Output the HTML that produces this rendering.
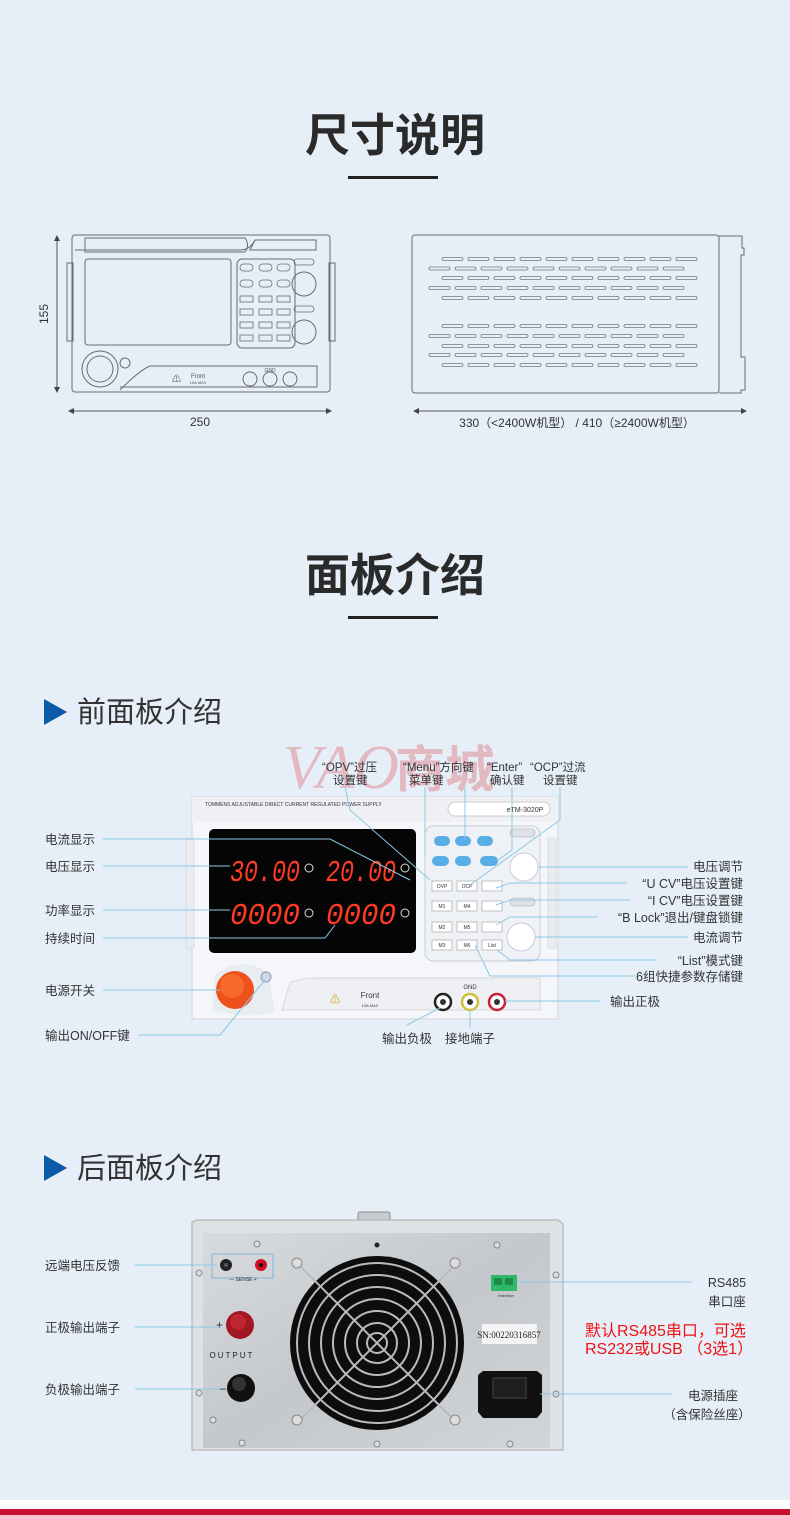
<!DOCTYPE html>
<html><head><meta charset="utf-8">
<style>
html,body{margin:0;padding:0;}
body{width:790px;height:1515px;background:#e6eff8;position:relative;overflow:hidden;font-family:"Liberation Sans","Noto Sans CJK SC",sans-serif;}
svg{position:absolute;left:0;top:0;}
</style></head><body>
<svg width="790" height="1515" viewBox="0 0 790 1515" xmlns="http://www.w3.org/2000/svg" font-family="Liberation Sans, Noto Sans CJK SC, sans-serif">
<rect width="790" height="1515" fill="#e6eff8"/>
<rect y="1500" width="790" height="9" fill="#ffffff"/>
<rect y="1509" width="790" height="6" fill="#c8102e"/>

<text x="395" y="151" font-size="45" font-weight="bold" text-anchor="middle" fill="#2a2a2a">尺寸说明</text>
<rect x="348" y="176" width="90" height="3" fill="#222"/>

<g fill="none" stroke="#6b6b6b" stroke-width="1">
<rect x="72" y="235" width="258" height="157" rx="3"/>
<rect x="67" y="263" width="6" height="78"/>
<rect x="329" y="263" width="6" height="78"/>
<path d="M85 238 H245 Q250 245 245 252 H85 Z"/>
<path d="M255 240 H316 V250 H250 Z"/>
<path d="M75 250 H240 Q250 250 255 240"/>
<rect x="85" y="259" width="146" height="86" rx="3"/>
<rect x="237" y="259" width="58" height="89" rx="5"/>
<g stroke-width="0.8">
<rect x="240" y="264" width="13" height="7" rx="3.5"/><rect x="259" y="264" width="13" height="7" rx="3.5"/><rect x="277" y="264" width="13" height="7" rx="3.5"/>
<rect x="240" y="280" width="13" height="7" rx="3.5"/><rect x="259" y="280" width="13" height="7" rx="3.5"/><rect x="277" y="280" width="13" height="7" rx="3.5"/>
<rect x="240" y="296" width="13" height="6"/><rect x="259" y="296" width="13" height="6"/><rect x="277" y="296" width="13" height="6"/>
<rect x="240" y="309" width="13" height="6"/><rect x="259" y="309" width="13" height="6"/><rect x="277" y="309" width="13" height="6"/>
<rect x="240" y="322" width="13" height="6"/><rect x="259" y="322" width="13" height="6"/><rect x="277" y="322" width="13" height="6"/>
<rect x="240" y="335" width="13" height="6"/><rect x="259" y="335" width="13" height="6"/><rect x="277" y="335" width="13" height="6"/>
<rect x="294" y="259" width="20" height="6" rx="3"/><rect x="294" y="306" width="20" height="6" rx="3"/>
</g>
<circle cx="304" cy="284" r="12"/><circle cx="304" cy="332" r="12"/>
<circle cx="100" cy="369" r="18"/><circle cx="100" cy="369" r="13"/><circle cx="125" cy="363" r="5"/>
<path d="M120 390 Q140 370 150 366 H317 V387 H120"/>
<circle cx="250" cy="379" r="7"/><circle cx="270" cy="379" r="7"/><circle cx="290" cy="379" r="7"/>
</g>
<text x="198" y="378" font-size="6" fill="#555" text-anchor="middle">Front</text>
<text x="198" y="384" font-size="4" fill="#555" text-anchor="middle">10A MAX</text>
<text x="172" y="382" font-size="9" fill="#555">⚠</text>
<text x="270" y="372" font-size="5" fill="#555" text-anchor="middle">GND</text>
<g stroke="#555" stroke-width="1"><line x1="57" y1="238" x2="57" y2="390"/><line x1="70" y1="411" x2="330" y2="411"/><line x1="414" y1="411" x2="746" y2="411"/></g>
<g fill="#444"><path d="M57 235 l-3 6 h6z"/><path d="M57 393 l-3 -6 h6z"/><path d="M68 411 l6 -3 v6z"/><path d="M332 411 l-6 -3 v6z"/><path d="M413 411 l6 -3 v6z"/><path d="M747 411 l-6 -3 v6z"/></g>
<text x="48" y="314" font-size="12" fill="#333" text-anchor="middle" transform="rotate(-90 48 314)">155</text>
<text x="200" y="426" font-size="12" fill="#333" text-anchor="middle">250</text>
<text x="577" y="427" font-size="12" fill="#333" text-anchor="middle">330（&lt;2400W机型） / 410（≥2400W机型）</text>

<g fill="none" stroke="#6b6b6b" stroke-width="1">
<rect x="412" y="235" width="307" height="158" rx="3"/>
<path d="M719 236 H742 V248 H744 V255 H741 V357 H745 V390 H741 V393 H719"/>
</g>
<g id="slots" fill="none" stroke="#777" stroke-width="0.8"></g>

<text x="395" y="591" font-size="45" font-weight="bold" text-anchor="middle" fill="#2a2a2a">面板介绍</text>
<rect x="348" y="616" width="90" height="3" fill="#222"/>

<path d="M44 699 L67 712 L44 725 Z" fill="#0d5aa7"/>
<text x="77" y="722" font-size="29" fill="#333">前面板介绍</text>

<text x="283" y="788" font-size="62" font-family="Liberation Serif, serif" font-style="italic" fill="#e07a80" opacity="0.45">VAO</text>
<text x="395" y="787" font-size="50" font-weight="bold" fill="#e07a80" opacity="0.45">商城</text>

<rect x="192" y="797" width="366" height="222" fill="#f4f6f9" stroke="#d0d4da"/>
<rect x="192" y="797" width="366" height="25" fill="#eef0f3"/>
<text x="205" y="806" font-size="5" fill="#334">TOMMENS   ADJUSTABLE DIRECT CURRENT REGULATED POWER SUPPLY</text>
<rect x="448" y="802" width="102" height="14" rx="7" fill="#fff" stroke="#ccc"/>
<text x="525" y="812" font-size="7" fill="#333" text-anchor="middle">eTM-3020P</text>
<rect x="186" y="838" width="8" height="110" fill="#e8ebef" stroke="#ddd"/>
<rect x="548" y="838" width="8" height="110" fill="#e8ebef" stroke="#ddd"/>
<rect x="209" y="829" width="207" height="124" rx="5" fill="#050505"/>
<g font-family="Liberation Mono, monospace" font-size="31" fill="#ff3b24" font-style="italic">
<text x="230" y="881" textLength="70" lengthAdjust="spacingAndGlyphs">30.00</text><text x="326" y="881" textLength="70" lengthAdjust="spacingAndGlyphs">20.00</text>
<text x="230" y="924" textLength="70" lengthAdjust="spacingAndGlyphs">0000</text><text x="326" y="924" textLength="70" lengthAdjust="spacingAndGlyphs">0000</text>
</g>
<g fill="none" stroke="#ddd" stroke-width="1"><circle cx="309" cy="868" r="4"/><circle cx="405" cy="868" r="4"/><circle cx="309" cy="913" r="4"/><circle cx="405" cy="913" r="4"/></g>
<rect x="425" y="826" width="115" height="135" rx="8" fill="#eef1f5" stroke="#c9cfd6"/>
<g fill="#5aaee6"><rect x="434" y="836" width="16" height="10" rx="5"/><rect x="455" y="836" width="16" height="10" rx="5"/><rect x="477" y="836" width="16" height="10" rx="5"/>
<rect x="432" y="856" width="17" height="10" rx="5"/><rect x="455" y="856" width="16" height="10" rx="5"/><rect x="480" y="856" width="18" height="10" rx="5"/></g>
<g fill="#fff" stroke="#aaa" stroke-width="0.7">
<rect x="432" y="881" width="20" height="10"/><rect x="457" y="881" width="20" height="10"/><rect x="482" y="881" width="20" height="10"/>
<rect x="432" y="901" width="20" height="10"/><rect x="457" y="901" width="20" height="10"/><rect x="482" y="901" width="20" height="10"/>
<rect x="432" y="922" width="20" height="10"/><rect x="457" y="922" width="20" height="10"/><rect x="482" y="922" width="20" height="10"/>
<rect x="432" y="940" width="20" height="10"/><rect x="457" y="940" width="20" height="10"/><rect x="482" y="940" width="20" height="10"/>
</g>
<g font-size="5" fill="#333" text-anchor="middle"><text x="442" y="888">OVP</text><text x="467" y="888">OCP</text><text x="442" y="908">M1</text><text x="467" y="908">M4</text><text x="442" y="929">M2</text><text x="467" y="929">M5</text><text x="442" y="947">M3</text><text x="467" y="947">M6</text><text x="492" y="947">List</text></g>
<rect x="510" y="829" width="25" height="8" rx="4" fill="#dde2e8" stroke="#aaa" stroke-width="0.6"/>
<rect x="510" y="898" width="25" height="8" rx="4" fill="#dde2e8" stroke="#aaa" stroke-width="0.6"/>
<circle cx="524" cy="867" r="14" fill="#fff" stroke="#ccd" /><circle cx="521" cy="937" r="14" fill="#fff" stroke="#ccd"/>
<path d="M215 975 Q240 955 268 972 L275 1012 Q240 1020 212 1010 Z" fill="#e9ecf0"/>
<circle cx="235" cy="990" r="19" fill="#f0501c"/><circle cx="232" cy="986" r="12" fill="#f66a2c"/>
<circle cx="266" cy="977" r="5" fill="#cfd8e6" stroke="#8899bb"/>
<path d="M290 983 Q300 978 320 978 H540 V1010 H282 Z" fill="#eef0f3" stroke="#d5d8dc"/>
<text x="330" y="1003" font-size="10" fill="#d4a000">⚠</text>
<text x="370" y="998" font-size="8" fill="#333" text-anchor="middle">Front</text>
<text x="370" y="1007" font-size="4" fill="#333" text-anchor="middle">10A MAX</text>
<g><circle cx="443" cy="1002" r="8" fill="#fff" stroke="#222" stroke-width="2.5"/><circle cx="470" cy="1002" r="8" fill="#fff" stroke="#cfc23a" stroke-width="2.5"/><circle cx="497" cy="1002" r="8" fill="#fff" stroke="#c8203a" stroke-width="2.5"/>
<circle cx="443" cy="1002" r="3" fill="#333"/><circle cx="470" cy="1002" r="3" fill="#333"/><circle cx="497" cy="1002" r="3" fill="#333"/></g>
<text x="470" y="989" font-size="6" fill="#333" text-anchor="middle">GND</text>

<g stroke="#8cc8e6" stroke-width="1" fill="none">
<line x1="103" y1="839" x2="300" y2="839"/><polyline points="300,839 330,839 410,880"/>
<line x1="103" y1="866" x2="230" y2="866"/>
<line x1="103" y1="910" x2="230" y2="910"/>
<line x1="103" y1="938" x2="310" y2="938"/><polyline points="310,938 325,938 335,925"/>
<line x1="103" y1="990" x2="220" y2="990"/>
<polyline points="138,1035 220,1035 265,980"/>
<polyline points="345,787 350,810 430,880"/>
<polyline points="425,787 425,855"/><line x1="465" y1="787" x2="465" y2="840"/>
<polyline points="512,787 512,850 498,860"/>
<polyline points="560,787 560,820 470,885"/>
<line x1="538" y1="867" x2="688" y2="867"/>
<polyline points="496,888 510,883 627,883"/>
<polyline points="496,905 510,900 630,900"/>
<polyline points="496,925 510,917 598,917"/>
<line x1="535" y1="937" x2="688" y2="937"/>
<polyline points="497,950 510,960 657,960"/>
<polyline points="475,945 490,976 635,976"/>
<line x1="505" y1="1001" x2="600" y2="1001"/>
<polyline points="407,1025 440,1008"/><line x1="470" y1="1010" x2="470" y2="1028"/>
</g>
<g font-size="12.5" fill="#333">
<text x="45" y="844">电流显示</text><text x="45" y="871">电压显示</text><text x="45" y="915">功率显示</text><text x="45" y="943">持续时间</text><text x="45" y="995">电源开关</text><text x="45" y="1040">输出ON/OFF键</text>
<g text-anchor="end"><text x="743" y="871">电压调节</text><text x="743" y="888">“U CV”电压设置键</text><text x="743" y="905">“I CV”电压设置键</text><text x="743" y="922">“B Lock”退出/键盘锁键</text><text x="743" y="942">电流调节</text><text x="743" y="965">“List”模式键</text><text x="743" y="981">6组快捷参数存储键</text></g>
<text x="610" y="1006">输出正极</text>
<text x="382" y="1043">输出负极</text><text x="445" y="1043">接地端子</text>
<text x="322" y="771" font-size="11.5">“OPV”过压</text><text x="333" y="784" font-size="11.5">设置键</text>
<text x="403" y="771" font-size="11.5">“Menu”方向键</text><text x="409" y="784" font-size="11.5">菜单键</text>
<text x="487" y="771" font-size="11.5">“Enter”</text><text x="490" y="784" font-size="11.5">确认键</text>
<text x="530" y="771" font-size="11.5">“OCP”过流</text><text x="543" y="784" font-size="11.5">设置键</text>
</g>

<path d="M44 1155 L67 1168 L44 1181 Z" fill="#0d5aa7"/>
<text x="77" y="1178" font-size="29" fill="#333">后面板介绍</text>

<rect x="358" y="1212" width="32" height="10" rx="2" fill="#c8ccd0" stroke="#888"/>
<path d="M192 1222 L197 1220 H558 L563 1224 V1450 H192 Z" fill="#dfe2e5" stroke="#aaa"/>
<defs><linearGradient id="metal" x1="0" y1="0" x2="1" y2="1"><stop offset="0" stop-color="#d8dbde"/><stop offset="0.5" stop-color="#c4c8cc"/><stop offset="1" stop-color="#d2d5d8"/></linearGradient></defs>
<rect x="203" y="1233" width="347" height="215" fill="url(#metal)"/>
<rect x="212" y="1254" width="61" height="24" fill="none" stroke="#7ab8dc"/>
<circle cx="226" cy="1265" r="6" fill="#222"/><circle cx="261" cy="1265" r="6" fill="#d01020"/><circle cx="261" cy="1265" r="2" fill="#111"/><circle cx="226" cy="1265" r="2" fill="#555"/>
<text x="243" y="1281" font-size="5" fill="#333" text-anchor="middle">— SENSE +</text>
<circle cx="240" cy="1325" r="14" fill="#a01822"/><circle cx="238" cy="1322" r="8" fill="#c02530"/>
<text x="216" y="1329" font-size="12" fill="#333">+</text>
<text x="232" y="1358" font-size="8" fill="#222" text-anchor="middle" letter-spacing="2">OUTPUT</text>
<circle cx="241" cy="1388" r="14" fill="#111"/><circle cx="239" cy="1384" r="7" fill="#333"/>
<text x="214" y="1392" font-size="12" fill="#333">—</text>
<circle cx="377" cy="1343" r="87" fill="#0d0d0d"/>
<g fill="none" stroke="#bbb" stroke-width="2">
<circle cx="377" cy="1343" r="80"/><circle cx="377" cy="1343" r="68"/><circle cx="377" cy="1343" r="56"/><circle cx="377" cy="1343" r="44"/><circle cx="377" cy="1343" r="32"/><circle cx="377" cy="1343" r="20"/><circle cx="377" cy="1343" r="10"/>
<line x1="298" y1="1264" x2="456" y2="1422"/><line x1="456" y1="1264" x2="298" y2="1422"/>
</g>
<g fill="#ddd" stroke="#888"><circle cx="297" cy="1263" r="5"/><circle cx="455" cy="1263" r="5"/><circle cx="297" cy="1420" r="5"/><circle cx="455" cy="1420" r="5"/>
<circle cx="257" cy="1244" r="3"/><circle cx="497" cy="1245" r="3"/><circle cx="199" cy="1273" r="3"/><circle cx="556" cy="1275" r="3"/><circle cx="199" cy="1393" r="3"/><circle cx="556" cy="1394" r="3"/><circle cx="242" cy="1443" r="3"/><circle cx="377" cy="1444" r="3"/><circle cx="510" cy="1444" r="3"/><circle cx="213" cy="1420" r="3"/></g>
<circle cx="377" cy="1245" r="2.5" fill="#222"/>
<rect x="491" y="1275" width="26" height="16" fill="#2fb869"/><rect x="494" y="1278" width="8" height="7" fill="#1d8a4c"/><rect x="505" y="1278" width="8" height="7" fill="#1d8a4c"/>
<text x="506" y="1297" font-size="4" fill="#333" text-anchor="middle">Interface</text>
<rect x="482" y="1324" width="55" height="20" fill="#f4f4f4"/>
<text x="509" y="1338" font-size="9" font-family="Liberation Serif, serif" fill="#222" text-anchor="middle">SN:00220316857</text>
<path d="M478 1375 L483 1371 H537 L542 1375 V1412 L537 1418 H483 L478 1412 Z" fill="#111"/>
<rect x="493" y="1378" width="33" height="20" fill="#1e1e1e" stroke="#444"/>

<g stroke="#8cc8e6" stroke-width="1" fill="none">
<line x1="135" y1="1265" x2="217" y2="1265"/>
<line x1="135" y1="1327" x2="220" y2="1327"/>
<line x1="135" y1="1389" x2="220" y2="1389"/>
<line x1="517" y1="1282" x2="692" y2="1282"/>
<line x1="540" y1="1394" x2="672" y2="1394"/>
</g>
<g font-size="12.5" fill="#333">
<text x="45" y="1270">远端电压反馈</text><text x="45" y="1332">正极输出端子</text><text x="45" y="1394">负极输出端子</text>
<text x="727" y="1287" text-anchor="middle">RS485</text><text x="727" y="1306" text-anchor="middle">串口座</text>
<text x="713" y="1400" text-anchor="middle">电源插座</text><text x="707" y="1419" text-anchor="middle">（含保险丝座）</text>
</g>
<text x="585" y="1336" font-size="16" fill="#ee1111">默认RS485串口，可选</text>
<text x="585" y="1354" font-size="16" fill="#ee1111">RS232或USB （3选1）</text>
</svg>
<script>
var g=document.getElementById('slots'),s='';
var rows=[[259,442],[268.5,429],[278,442],[288,429],[298,442],[326,442],[336,429],[346,442],[355,429],[365,442]];
rows.forEach(function(r){for(var i=0;i<10;i++){s+='<rect x="'+(r[1]+i*26)+'" y="'+(r[0]-1.5)+'" width="21" height="3" rx="1.5"/>';}});
g.innerHTML=s;
</script>
</body></html>
